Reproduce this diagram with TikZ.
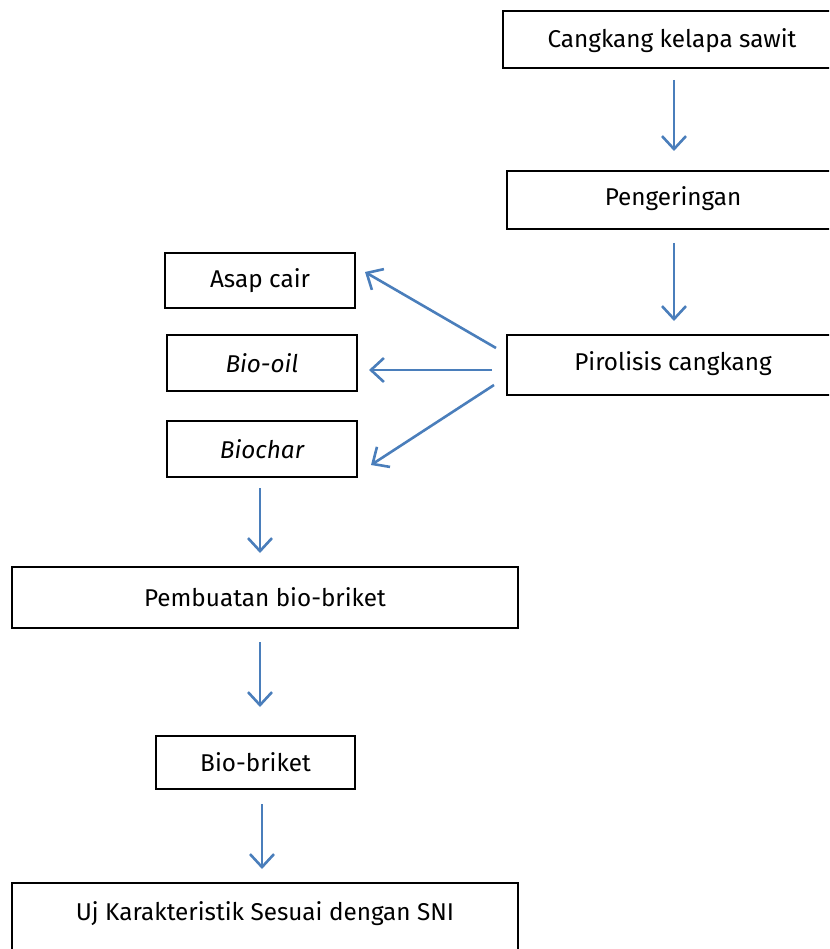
\documentclass[tikz,border=0pt]{standalone}
\usepackage{fontspec}
\setmainfont{Fira Sans}
\usetikzlibrary{arrows.meta}
\definecolor{arrowblue}{HTML}{4A7EBB}
\tikzset{
  txt/.style={font=\fontsize{24.3}{28}\selectfont},
  box/.style={draw=black, line width=1.3pt, rectangle, inner sep=0pt, txt},
  flow/.style={draw=arrowblue, line width=2.6pt, -{Straight Barb[length=13pt,width=24pt,line width=2.6pt]}},
}
\begin{document}
\begin{tikzpicture}[x=1pt,y=-1pt]
\useasboundingbox (0,0) rectangle (829,949);
\begin{scope}
\clip (0,0) rectangle (829,949);
% boxes
\draw[box] (503,11) rectangle (840,68);
\node[txt] (c1) at (672,40.5) {Cangkang kelapa sawit};
\draw[box] (507,171) rectangle (840,229);
\node[txt] (c2) at (673,199) {Pengeringan};
\draw[box] (507,335) rectangle (840,395);
\node[txt] (c3) at (673,364) {Pirolisis cangkang};
\draw[box] (12,883) rectangle (518,960);
\node[txt] (c9) at (265,914) {Uj Karakteristik Sesuai dengan SNI};
\end{scope}
\node[box, minimum width=190pt, minimum height=55pt] (asap) at (260,280.5) {Asap cair};
\node[box, minimum width=190pt, minimum height=56pt] (oil) at (262,363) {\itshape Bio-oil};
\node[box, minimum width=190pt, minimum height=56pt] (char) at (262,449) {\itshape Biochar};
\node[box, minimum width=506pt, minimum height=61pt] (pemb) at (265,597.5) {Pembuatan bio-briket};
\node[box, minimum width=199pt, minimum height=53pt] (bri) at (255.5,762.5) {Bio-briket};
% arrow anchors
\coordinate (a1s) at (674,80); \coordinate (a1e) at (674,151);
\coordinate (a2s) at (674,243); \coordinate (a2e) at (674,321);
\coordinate (p1) at (496,348); \coordinate (q1) at (365,272);
\coordinate (p2) at (492,370); \coordinate (q2) at (369,370);
\coordinate (p3) at (494,385); \coordinate (q3) at (371,465);
\coordinate (b1s) at (260,488); \coordinate (b1e) at (260,553);
\coordinate (b2s) at (260,642); \coordinate (b2e) at (260,707);
\coordinate (b3s) at (262,804); \coordinate (b3e) at (262,869);
\draw[flow] (a1s) -- (a1e);
\draw[flow] (a2s) -- (a2e);
\draw[flow] (p1) -- (q1);
\draw[flow] (p2) -- (q2);
\draw[flow] (p3) -- (q3);
\draw[flow] (b1s) -- (b1e);
\draw[flow] (b2s) -- (b2e);
\draw[flow] (b3s) -- (b3e);
\end{tikzpicture}
\end{document}
